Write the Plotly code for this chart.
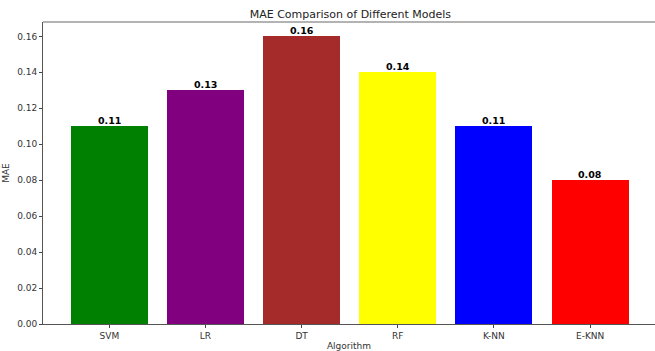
import plotly.graph_objects as go

algorithms = ["SVM", "LR", "DT", "RF", "K-NN", "E-KNN"]
mae_values = [0.11, 0.13, 0.16, 0.14, 0.11, 0.08]
bar_colors = ["green", "purple", "brown", "yellow", "blue", "red"]
y_ticks = [0.00, 0.02, 0.04, 0.06, 0.08, 0.10, 0.12, 0.14, 0.16]

FONT = "DejaVu Sans"
positions = list(range(len(algorithms)))

fig = go.Figure(
    go.Bar(
        x=positions,
        y=mae_values,
        width=0.8,
        marker=dict(color=bar_colors, line=dict(width=0)),
    )
)

# value labels sitting on top of each bar
for xi, v in zip(positions, mae_values):
    fig.add_annotation(
        x=xi, y=v, text=f"<b>{v:.2f}</b>", showarrow=False,
        xanchor="center", yanchor="bottom", yshift=-2,
        font=dict(family=FONT, size=9.5, color="black"),
    )

fig.update_layout(
    width=655,
    height=351,
    margin=dict(l=43, r=0, t=22, b=27),
    paper_bgcolor="white",
    plot_bgcolor="white",
    showlegend=False,
    bargap=0,
    title=dict(
        text="MAE Comparison of Different Models",
        x=0.535,
        xanchor="center",
        y=1 - 14 / 351,
        yanchor="middle",
        font=dict(family=FONT, size=11, color="#222"),
    ),
)

fig.update_xaxes(
    range=[-0.69, 5.675],
    tickmode="array",
    tickvals=positions,
    ticktext=algorithms,
    ticks="outside",
    ticklen=3,
    tickcolor="#444",
    tickfont=dict(family=FONT, size=9, color="#333"),
    showline=True,
    linecolor="#555",
    linewidth=1,
    showgrid=False,
    zeroline=False,
    title=dict(text="Algorithm", font=dict(family=FONT, size=9, color="#333"), standoff=4),
)

fig.update_yaxes(
    range=[0, 0.168],
    tickmode="array",
    tickvals=y_ticks,
    ticktext=[f"{t:.2f}" for t in y_ticks],
    ticks="outside",
    ticklen=3,
    tickcolor="#444",
    tickfont=dict(family=FONT, size=9, color="#333"),
    showline=True,
    linecolor="#555",
    linewidth=1,
    showgrid=False,
    zeroline=False,
    title=dict(text="MAE", font=dict(family=FONT, size=9, color="#333"), standoff=6),
)

# top spine
fig.add_shape(
    type="line", xref="paper", yref="paper", x0=0, x1=1, y0=1, y1=1,
    line=dict(color="#9a9a9a", width=1.5),
)

fig.write_html("out.html")
